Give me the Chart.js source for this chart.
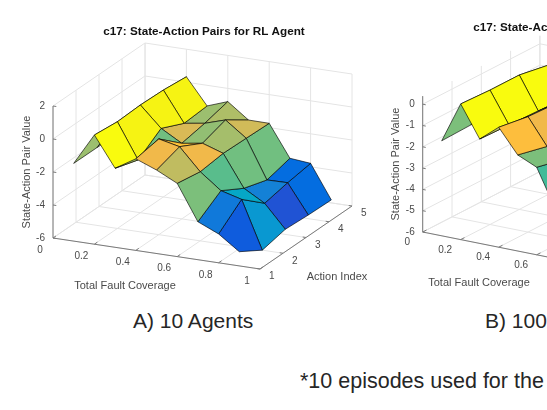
<!DOCTYPE html>
<html>
<head>
<meta charset="utf-8">
<script src="https://cdn.jsdelivr.net/npm/chart.js@4.4.1/dist/chart.umd.min.js"></script>
<style>
  html, body { margin: 0; padding: 0; background: #fff; }
  body { position: relative; width: 547px; height: 410px; overflow: hidden;
         font-family: "Liberation Sans", Arial, Helvetica, sans-serif; }
  canvas { position: absolute; top: 0; }
  #panelA { left: 0; }
  #panelB { left: 369px; }
  .caption { position: absolute; font-size: 21px; line-height: 21px; color: #262626; white-space: nowrap; }
</style>
</head>
<body>
<canvas id="panelA" width="369" height="300"></canvas>
<canvas id="panelB" width="369" height="300"></canvas>
<div class="caption" style="left:133px; top:310px;">A) 10 Agents</div>
<div class="caption" style="left:485px; top:310px;">B) 100 Agents</div>
<div class="caption" style="left:300px; top:371px; font-size:21.5px;">*10 episodes used for the</div>
<script>
// grid of the surface
const coverage = [0.1, 0.2, 0.3, 0.4, 0.5, 0.6, 0.7, 0.8, 0.9];
const actions = [1, 2, 3, 4, 5];

// axis ticks
const coverageTicks = [0, 0.2, 0.4, 0.6, 0.8, 1];
const coverageTickLabels = ["0", "0.2", "0.4", "0.6", "0.8", "1"];
const actionTicks = [1, 2, 3, 4, 5];
const valueTicks10 = [-6, -4, -2, 0, 2];
const valueTicks100 = [-6, -5, -4, -3, -2, -1, 0];

// state-action pair values: one row per coverage level, one column per action
const values10 = [
  [-1.29, -1.30, -1.32, -1.30, -1.33],
  [ 0.62,  0.47,  0.53,  0.48,  0.33],
  [-1.21, -1.66, -0.70, -1.35, -1.25],
  [-0.45, -0.20, -1.42, -1.16, -0.80],
  [-0.94, -0.48, -1.23, -0.77, -1.73],
  [-1.56, -1.81, -1.65, -1.69, -1.74],
  [-3.70, -2.77, -3.58, -4.03, -3.67],
  [-4.25, -3.11, -4.30, -4.01, -3.79],
  [-5.14, -6.00, -5.69, -5.78, -5.82],
];
const values100 = [
  [-1.54, -1.50, -1.52, -1.55, -1.60],
  [ 0.37,  0.31,  0.31,  0.07,  0.00],
  [-1.10, -1.15, -1.20, -1.25, -1.30],
  [-0.37, -0.58, -0.65, -0.70, -0.80],
  [-1.49, -1.80, -1.70, -1.75, -1.80],
  [-1.89, -2.20, -2.10, -2.30, -2.20],
  [-3.70, -3.30, -3.60, -3.80, -3.70],
  [-4.00, -3.60, -4.10, -4.00, -3.90],
  [-4.30, -4.35, -4.20, -4.30, -4.25],
];

const TITLE = "c17: State-Action Pairs for RL Agent";
const FONT = '"Liberation Sans", Arial, Helvetica, sans-serif';
const EDGE = "rgba(0,0,0,0.8)";
const GRID = "#e4e4e4";
const AXIS = "#7a7a7a";
const TEXT = "#4a4a4a";

// MATLAB parula, 64 steps
const parula = [
  [0.2081,0.1663,0.5292],[0.2116,0.1898,0.5777],[0.2123,0.2138,0.6270],[0.2081,0.2386,0.6771],
  [0.1959,0.2645,0.7279],[0.1707,0.2919,0.7792],[0.1253,0.3242,0.8303],[0.0591,0.3598,0.8683],
  [0.0117,0.3875,0.8820],[0.0060,0.4086,0.8828],[0.0165,0.4266,0.8786],[0.0329,0.4430,0.8720],
  [0.0498,0.4586,0.8641],[0.0629,0.4737,0.8554],[0.0723,0.4887,0.8467],[0.0779,0.5040,0.8384],
  [0.0793,0.5200,0.8312],[0.0749,0.5375,0.8263],[0.0641,0.5570,0.8240],[0.0488,0.5772,0.8228],
  [0.0343,0.5966,0.8199],[0.0265,0.6137,0.8135],[0.0239,0.6287,0.8038],[0.0231,0.6418,0.7913],
  [0.0228,0.6535,0.7768],[0.0267,0.6642,0.7607],[0.0384,0.6743,0.7436],[0.0590,0.6838,0.7254],
  [0.0843,0.6928,0.7062],[0.1133,0.7015,0.6859],[0.1453,0.7098,0.6646],[0.1801,0.7177,0.6424],
  [0.2178,0.7250,0.6193],[0.2586,0.7317,0.5954],[0.3022,0.7376,0.5712],[0.3482,0.7424,0.5473],
  [0.3953,0.7459,0.5244],[0.4420,0.7481,0.5033],[0.4871,0.7491,0.4840],[0.5300,0.7491,0.4661],
  [0.5709,0.7485,0.4494],[0.6099,0.7473,0.4337],[0.6473,0.7456,0.4188],[0.6834,0.7435,0.4044],
  [0.7184,0.7411,0.3905],[0.7525,0.7384,0.3768],[0.7858,0.7356,0.3633],[0.8185,0.7327,0.3498],
  [0.8507,0.7299,0.3360],[0.8824,0.7274,0.3217],[0.9139,0.7258,0.3063],[0.9450,0.7261,0.2886],
  [0.9739,0.7314,0.2666],[0.9938,0.7455,0.2403],[0.9990,0.7653,0.2164],[0.9955,0.7861,0.1967],
  [0.9880,0.8066,0.1794],[0.9789,0.8271,0.1633],[0.9697,0.8481,0.1475],[0.9626,0.8705,0.1309],
  [0.9589,0.8949,0.1132],[0.9598,0.9218,0.0948],[0.9661,0.9514,0.0755],[0.9763,0.9831,0.0538],
];

function faceColor(v, lo, hi) {
  let k = Math.floor(((v - lo) / (hi - lo)) * parula.length);
  k = Math.max(0, Math.min(parula.length - 1, k));
  const [r, g, b] = parula[k];
  return `rgb(${Math.round(r * 255)},${Math.round(g * 255)},${Math.round(b * 255)})`;
}

// orthographic view: where the box corner (xmin, ymin, zmin) lands and how each unit moves on screen
const view10 = {
  size: [369, 300],
  xLim: [0, 1], yLim: [1, 5], zLim: [-6, 2], cLim: [-4.9, 0.62],
  origin: [53, 238], ex: [207, 31], ey: [23, -15.75], ez: [0, -16.5],
  title: [204, 32],
  xTickOff: [-13, 12], yTickOff: [11.7, 7.6], zTickGap: 8,
  xLabelOff: [-31.5, 32.5], yLabelOff: [31, 39.5], zLabelGap: 26.5,
};
const view100 = {
  size: [369, 300],
  xLim: [0, 1], yLim: [1, 5], zLim: [-6, 0.38], cLim: [-4.35, 0.37],
  origin: [53.7, 232], ex: [190, 38], ey: [29.3, -15.1], ez: [0, -21.3],
  title: [205, 28],
  xTickOff: [-15.5, 10.5], yTickOff: [11.7, 7.6], zTickGap: 8,
  xLabelOff: [-38.7, 32.3], yLabelOff: [31, 39.5], zLabelGap: 27,
};

function drawPanel(canvasId, values, valueTicks, view) {
  const [x0, x1] = view.xLim, [y0, y1] = view.yLim, [z0, z1] = view.zLim;
  const proj = (x, y, z) => ({
    x: view.origin[0] + view.ex[0] * (x - x0) + view.ey[0] * (y - y0) + view.ez[0] * (z - z0),
    y: view.origin[1] + view.ex[1] * (x - x0) + view.ey[1] * (y - y0) + view.ez[1] * (z - z0),
  });

  // viewing direction = null vector of the projection (box-normalised), pointing at the viewer
  const r1 = [view.ex[0] * (x1 - x0), view.ey[0] * (y1 - y0), view.ez[0] * (z1 - z0)];
  const r2 = [view.ex[1] * (x1 - x0), view.ey[1] * (y1 - y0), view.ez[1] * (z1 - z0)];
  let d = [r1[1] * r2[2] - r1[2] * r2[1], r1[2] * r2[0] - r1[0] * r2[2], r1[0] * r2[1] - r1[1] * r2[0]];
  if (d[2] < 0) d = d.map((v) => -v);
  const depth = (x, y, z) =>
    (d[0] * (x - x0)) / (x1 - x0) + (d[1] * (y - y0)) / (y1 - y0) + (d[2] * (z - z0)) / (z1 - z0);

  const [lo, hi] = view.cLim;

  const faces = [];
  for (let i = 0; i < coverage.length - 1; i++) {
    for (let j = 0; j < actions.length - 1; j++) {
      const corners = [[i, j], [i + 1, j], [i + 1, j + 1], [i, j + 1]];
      const pts = corners.map(([a, b]) => proj(coverage[a], actions[b], values[a][b]));
      pts.push(pts[0]);
      let cx = 0, cy = 0, cz = 0;
      corners.forEach(([a, b]) => { cx += coverage[a] / 4; cy += actions[b] / 4; cz += values[a][b] / 4; });
      faces.push({ pts, color: faceColor(values[i][j], lo, hi), depth: depth(cx, cy, cz) });
    }
  }
  faces.sort((a, b) => b.depth - a.depth); // nearest first

  const datasets = faces.map((f, k) => ({
    data: f.pts,
    showLine: true,
    fill: "shape",
    backgroundColor: f.color,
    borderColor: EDGE,
    borderWidth: 0.8,
    pointRadius: 0,
    order: k,
  }));

  // back-wall and floor grid
  const grid = [];
  const seg = (arr, a, b) => arr.push(proj(...a), proj(...b), { x: NaN, y: NaN });
  coverageTicks.forEach((x) => { seg(grid, [x, y0, z0], [x, y1, z0]); seg(grid, [x, y1, z0], [x, y1, z1]); });
  actionTicks.forEach((y) => { seg(grid, [x0, y, z0], [x1, y, z0]); seg(grid, [x0, y, z0], [x0, y, z1]); });
  valueTicks.forEach((z) => { seg(grid, [x0, y0, z], [x0, y1, z]); seg(grid, [x0, y1, z], [x1, y1, z]); });
  datasets.push({ data: grid, showLine: true, fill: false, borderColor: GRID, borderWidth: 1, pointRadius: 0, order: 100001 });

  // axis lines and tick marks
  const axes = [];
  seg(axes, [x0, y0, z0], [x1, y0, z0]);
  seg(axes, [x1, y0, z0], [x1, y1, z0]);
  seg(axes, [x0, y0, z0], [x0, y0, z1]);
  coverageTicks.forEach((x) => seg(axes, [x, y0, z0], [x, y0 + 0.13, z0]));
  actionTicks.forEach((y) => seg(axes, [x1, y, z0], [x1 - 0.016, y, z0]));
  valueTicks.forEach((z) => seg(axes, [x0, y0, z], [x0 + 0.016, y0, z]));
  datasets.push({ data: axes, showLine: true, fill: false, borderColor: AXIS, borderWidth: 1, pointRadius: 0, order: 100000 });

  const axisText = {
    id: "axisText",
    afterDraw(chart) {
      const { ctx } = chart;
      const sx = chart.scales.x, sy = chart.scales.y;
      const px = (p) => [sx.getPixelForValue(p.x), sy.getPixelForValue(p.y)];
      ctx.save();
      ctx.fillStyle = TEXT;
      ctx.font = `10px ${FONT}`;
      ctx.textAlign = "right";
      ctx.textBaseline = "middle";
      valueTicks.forEach((z) => {
        const [a, b] = px(proj(x0, y0, z));
        ctx.fillText(String(z), a - view.zTickGap, b);
      });
      ctx.textAlign = "center";
      coverageTicks.forEach((x, k) => {
        const [a, b] = px(proj(x, y0, z0));
        ctx.fillText(coverageTickLabels[k], a + view.xTickOff[0], b + view.xTickOff[1]);
      });
      actionTicks.forEach((y) => {
        const [a, b] = px(proj(x1, y, z0));
        ctx.fillText(String(y), a + view.yTickOff[0], b + view.yTickOff[1]);
      });

      ctx.font = `11px ${FONT}`;
      let [a, b] = px(proj((x0 + x1) / 2, y0, z0));
      ctx.fillText("Total Fault Coverage", a + view.xLabelOff[0], b + view.xLabelOff[1]);
      [a, b] = px(proj(x1, (y0 + y1) / 2, z0));
      ctx.fillText("Action Index", a + view.yLabelOff[0], b + view.yLabelOff[1]);
      [a, b] = px(proj(x0, y0, (z0 + z1) / 2));
      ctx.save();
      ctx.translate(a - view.zLabelGap, b);
      ctx.rotate(-Math.PI / 2);
      ctx.fillText("State-Action Pair Value", 0, 0);
      ctx.restore();

      ctx.fillStyle = "#111";
      ctx.font = `bold 11.7px ${FONT}`;
      ctx.fillText(TITLE, sx.getPixelForValue(view.title[0]), sy.getPixelForValue(view.title[1]));
      ctx.restore();
    },
  };

  new Chart(document.getElementById(canvasId), {
    type: "scatter",
    data: { datasets },
    options: {
      responsive: false,
      animation: false,
      events: [],
      layout: { padding: 0 },
      plugins: { legend: { display: false }, tooltip: { enabled: false } },
      scales: {
        x: { type: "linear", min: 0, max: view.size[0], display: false },
        y: { type: "linear", min: 0, max: view.size[1], reverse: true, display: false },
      },
    },
    plugins: [axisText],
  });
}

drawPanel("panelA", values10, valueTicks10, view10);
drawPanel("panelB", values100, valueTicks100, view100);
</script>
</body>
</html>
